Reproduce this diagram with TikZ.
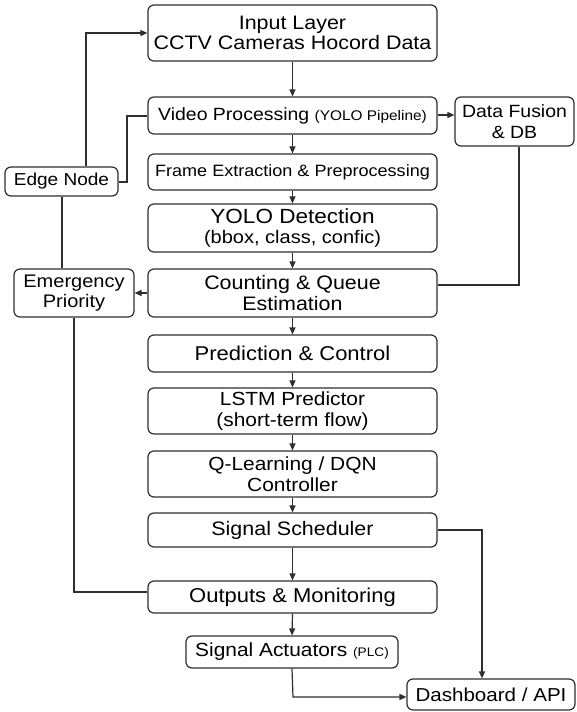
\documentclass[tikz,border=0pt]{standalone}
\usepackage{fontspec}
\setmainfont{Liberation Sans}[FakeStretch=1.1]
\usetikzlibrary{arrows.meta}
\definecolor{ln}{HTML}{2E2E2E}
\newcommand{\fsz}[1]{\fontsize{#1}{20.5}\selectfont}
\tikzset{
  box/.style={draw=ln, line width=1.2pt, rounded corners=6pt, inner sep=0pt, align=center, text=black},
  conn/.style={draw=ln, line width=1.2pt},
  arr/.style={conn, -{Triangle[length=7pt,width=6pt]}},
}
\begin{document}
\begin{tikzpicture}[x=1pt,y=-1pt]
\useasboundingbox (0,0) rectangle (577,712);
% main column
\node[box,font=\fsz{19.5},minimum width=289pt,minimum height=56pt] (input) at (292.5,33) {Input Layer\\CCTV Cameras Hocord Data};
\node[box,font=\fsz{17.7},minimum width=289pt,minimum height=37pt] (video) at (292.5,115.5) {Video Processing {\fsz{14}(YOLO Pipeline)}};
\node[box,font=\fsz{16.4},minimum width=289pt,minimum height=36pt] (frame) at (292.5,172) {Frame Extraction \& Preprocessing};
\node[box,font=\fsz{20.5},minimum width=289pt,minimum height=48pt] (yolo) at (292.5,228) {YOLO Detection\\{\fsz{18.2}(bbox, class, confic)}};
\node[box,font=\fsz{19.5},minimum width=289pt,minimum height=48pt] (count) at (292.5,293) {Counting \& Queue\\Estimation};
\node[box,font=\fsz{20},minimum width=289pt,minimum height=37pt] (pred) at (292.5,353.5) {Prediction \& Control};
\node[box,font=\fsz{19},minimum width=289pt,minimum height=46pt] (lstm) at (292.5,411) {LSTM Predictor\\(short-term flow)};
\node[box,font=\fsz{19},minimum width=289pt,minimum height=46pt] (ql) at (292.5,474) {Q-Learning / DQN\\Controller};
\node[box,font=\fsz{19.5},minimum width=289pt,minimum height=34pt] (sched) at (292.5,530) {Signal Scheduler};
\node[box,font=\fsz{20},minimum width=289pt,minimum height=32pt] (out) at (292.5,597) {Outputs \& Monitoring};
\node[box,font=\fsz{19},minimum width=212pt,minimum height=32pt] (act) at (292,652) {Signal Actuators {\fsz{12.4}(PLC)}};
\node[box,font=\fsz{18.7},minimum width=168pt,minimum height=31pt] (dash) at (491,694.5) {Dashboard / API};
% side nodes
\node[box,font=\fsz{17.3},minimum width=113pt,minimum height=29pt] (edge) at (61.5,181.5) {Edge Node};
\node[box,font=\fsz{18.2},minimum width=120pt,minimum height=48pt] (emerg) at (74,293) {Emergency\\Priority};
\node[box,font=\fsz{17.7},minimum width=119pt,minimum height=49pt] (fusion) at (514.5,121.5) {Data Fusion\\\& DB};
% main flow arrows
\foreach \a/\b in {input/video,video/frame,frame/yolo,yolo/count,count/pred,pred/lstm,lstm/ql,ql/sched,sched/out,out/act}
  \draw[arr] (\a.south) -- (\b.north);
% coordinates for bends
\coordinate (e1) at (86,33);
\coordinate (v1) at (127,116);
\coordinate (v2) at (127,182);
\coordinate (f1) at (519,285);
\coordinate (m1) at (74,592);
\coordinate (s1) at (482,530);
\coordinate (a1) at (293,697);
% side connectors
\draw[arr] (edge.north -| e1) -- (e1) -- (input.west |- e1);
\draw[conn] (video.west |- v1) -- (v1) -- (v2) -- (edge.east |- v2);
\draw[arr] (video.east |- 0,115) -- (fusion.west |- 0,115);
\draw[conn] (fusion.south -| f1) -- (f1) -- (count.east |- f1);
\draw[arr] (count.west) -- (emerg.east);
\draw[conn] (edge.south -| 62,0) -- (emerg.north -| 62,0);
\draw[conn] (emerg.south -| m1) -- (m1) -- (out.west |- m1);
\draw[arr] (sched.east) -- (s1) -- (dash.north -| s1);
\draw[arr] (act.south) -- (a1) -- (dash.west |- a1);
\end{tikzpicture}
\end{document}
